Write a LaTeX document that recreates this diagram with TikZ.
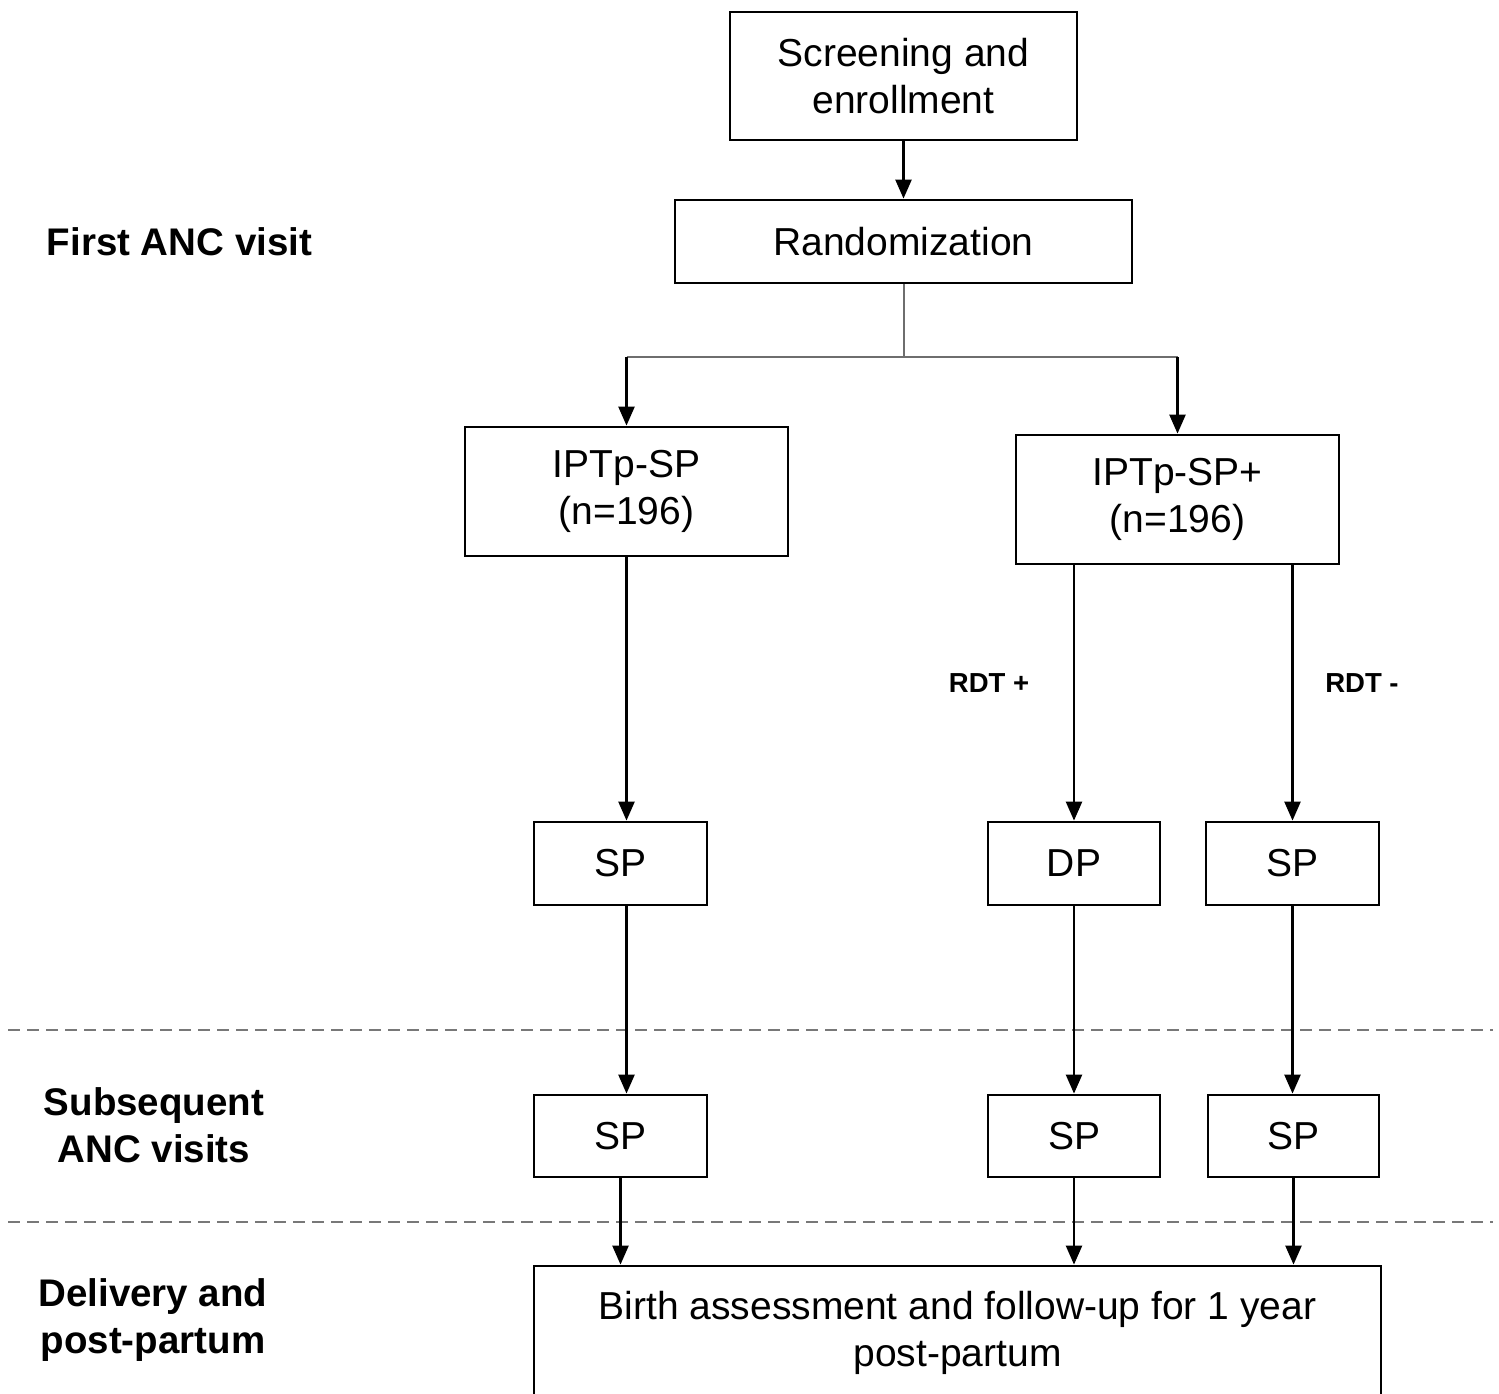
\documentclass[tikz,border=0pt]{standalone}
\usepackage{fontspec}
\setmainfont{Liberation Sans}
\usetikzlibrary{arrows.meta}

\definecolor{rulegray}{RGB}{120,120,120}
\definecolor{treegray}{RGB}{110,110,110}

\tikzset{
  box/.style={draw=black, line width=2.8pt, rectangle, inner sep=0pt,
    align=center, font=\fontsize{39}{47.5}\selectfont},
  phase/.style={align=center, inner sep=0pt,
    font=\fontsize{38.5}{47}\selectfont\bfseries},
  rdt/.style={inner sep=0pt, font=\fontsize{27.5}{33}\selectfont\bfseries},
  arr/.style={line width=2.4pt, -{Triangle[length=19pt,width=16pt]}},
  tree/.style={line width=2pt, draw=treegray},
  separator/.style={line width=2.8pt, draw=rulegray, dash pattern=on 12pt off 7pt},
}

\begin{document}
\begin{tikzpicture}[x=1pt, y=-1pt]
\useasboundingbox (0,0) rectangle (1499,1393);
\clip (0,0) rectangle (1499,1393);
\fill[white] (0,0) rectangle (1499,1393);

% phase separators
\coordinate (sepA-l) at (8,1030);
\coordinate (sepA-r) at (1493,1030);
\coordinate (sepB-l) at (8,1222);
\coordinate (sepB-r) at (1493,1222);
\draw[separator] (sepA-l) -- (sepA-r);
\draw[separator] (sepB-l) -- (sepB-r);

% phase labels
\node[phase] (first) at (179.5,242) {First ANC visit};
\node[phase] (subs) at (154,1125) {Subsequent\\ANC visits};
\node[phase] (deliv) at (153,1320) {Delivery and\\post-partum};

% boxes
\node[box, minimum width=347pt, minimum height=128pt] (scr) at (903.5,76) {Screening and\\enrollment};
\node[box, minimum width=457pt, minimum height=83pt] (rand) at (903.5,241.5) {Randomization};
\node[box, minimum width=323pt, minimum height=129pt] (ipsp) at (626.5,491.5) {IPTp-SP\\(n=196)};
\node[box, minimum width=323pt, minimum height=129pt] (ipspp) at (1177.5,499.5) {IPTp-SP+\\(n=196)};

\node[box, minimum width=173pt, minimum height=83pt] (sp1) at (620.5,863.5) {SP};
\node[box, minimum width=172pt, minimum height=83pt] (dp) at (1074,863.5) {DP};
\node[box, minimum width=173pt, minimum height=83pt] (sp2) at (1292.5,863.5) {SP};

\node[box, minimum width=173pt, minimum height=82pt] (sp1b) at (620.5,1136) {SP};
\node[box, minimum width=172pt, minimum height=82pt] (sp2b) at (1074,1136) {SP};
\node[box, minimum width=171pt, minimum height=82pt] (sp3b) at (1293.5,1136) {SP};

\node[box, minimum width=847pt, minimum height=134pt] (birth) at (957.5,1333) {Birth assessment and follow-up for 1 year\\post-partum};

% connectors
\draw[arr] (scr) -- (rand);

\coordinate (split) at (903.5,357);
\coordinate (splitL) at (626.5,357);
\coordinate (splitR) at (1177.5,357);
\draw[tree] (rand.south) -- (split);
\draw[tree] (splitL) -- (splitR);
\draw[arr] (splitL) -- (ipsp.north);
\draw[arr] (splitR) -- (ipspp.north);

\draw[arr] (ipsp.south) -- (ipsp.south |- sp1.north);
\draw[arr] (dp.north |- ipspp.south) -- (dp.north);
\draw[arr] (sp2.north |- ipspp.south) -- (sp2.north);

\node[rdt] (rdtpos) at (989,683) {RDT +};
\node[rdt] (rdtneg) at (1362,683) {RDT -};

\draw[arr] (ipsp.south |- sp1.south) -- (ipsp.south |- sp1b.north);
\draw[arr] (dp.south) -- (dp.south |- sp2b.north);
\draw[arr] (sp2.south) -- (sp2.south |- sp3b.north);

\draw[arr] (sp1b.south) -- (sp1b.south |- birth.north);
\draw[arr] (sp2b.south) -- (sp2b.south |- birth.north);
\draw[arr] (sp3b.south) -- (sp3b.south |- birth.north);
\end{tikzpicture}
\end{document}
